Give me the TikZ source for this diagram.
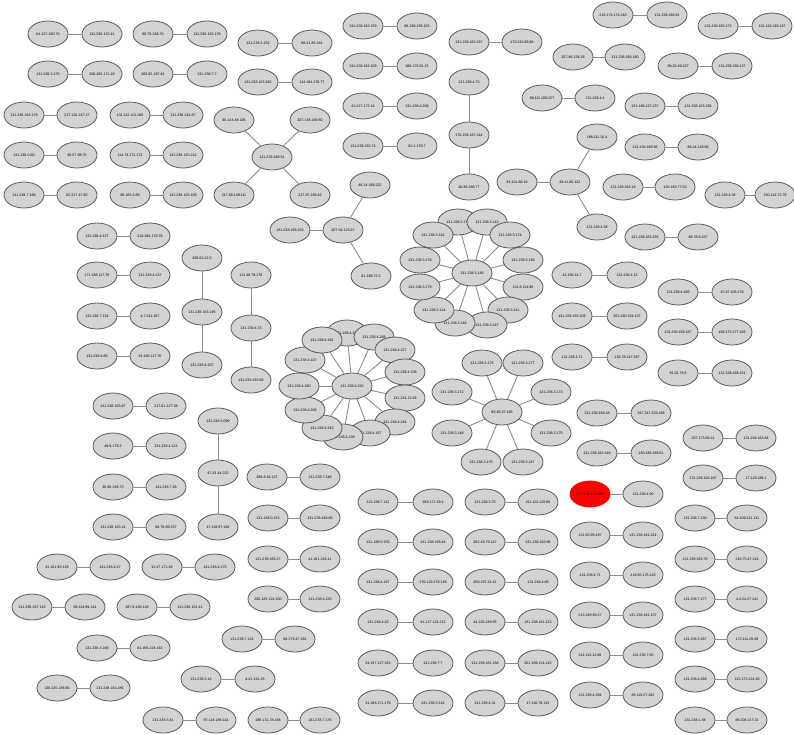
\documentclass[tikz,border=0pt]{standalone}
\usepackage{fontspec}
\newfontfamily\ipf{Liberation Sans}
\usetikzlibrary{shapes.geometric,backgrounds}
\definecolor{nodegray}{RGB}{211,211,211}
\definecolor{rimgray}{RGB}{90,90,90}
\definecolor{edgegray}{RGB}{140,140,140}
\tikzset{
  ip/.style={ellipse, draw=rimgray, fill=nodegray, line width=0.8pt,
    minimum width=40pt, minimum height=26pt, inner sep=0pt,
    font={\ipf\fontsize{3.6}{4}\selectfont}},
  hot/.style={ip, draw=red, fill=red},
  lnk/.style={draw=edgegray, line width=0.9pt}
}
\newcommand\ippair[6]{%
  \node[ip] (#1a) at (#3,#2) {#4};
  \node[ip] (#1b) at (#5,#2) {#6};
  \draw[lnk] (#1a) -- (#1b);}
\begin{document}
\begin{tikzpicture}[x=1pt,y=-1pt]
\useasboundingbox (0,0) rectangle (794,734);
% ---- pairs ----
\ippair{p1}{34}{48}{64.127.160.78}{102}{131.238.163.41}
\ippair{p2}{34}{153}{66.75.188.78}{207}{131.238.163.178}
\ippair{p3}{74}{48}{131.238.3.176}{102}{208.165.171.16}
\ippair{p4}{74}{153}{208.65.197.81}{207}{131.238.7.7}
\ippair{p5}{115}{24}{131.238.163.179}{77}{217.128.247.27}
\ippair{p6}{115}{130}{131.112.113.189}{183}{131.238.241.87}
\ippair{p7}{155}{24}{131.238.0.60}{77}{49.57.98.75}
\ippair{p8}{155}{130}{114.79.171.172}{183}{131.238.163.212}
\ippair{p9}{195}{24}{131.238.7.188}{77}{82.217.47.60}
\ippair{p10}{195}{130}{98.165.2.89}{183}{131.238.163.109}
\ippair{p11}{236}{97}{131.238.4.127}{150}{214.184.178.78}
\ippair{p12}{43}{258}{131.238.3.152}{312}{88.41.85.161}
\ippair{p13}{82}{258}{131.238.163.182}{312}{114.184.178.77}
\ippair{p14}{26}{363}{131.238.163.159}{417}{88.188.195.153}
\ippair{p15}{66}{363}{131.238.163.109}{417}{188.176.61.15}
\ippair{p16}{106}{363}{41.217.172.14}{417}{131.238.4.208}
\ippair{p17}{146}{363}{131.238.163.74}{417}{92.1.179.7}
\ippair{p18}{42}{469}{131.238.163.197}{522}{170.210.86.86}
\ippair{p19}{57}{573}{207.86.134.26}{625}{131.238.168.180}
\ippair{p20}{98}{542}{88.111.109.227}{595}{131.238.4.1}
\ippair{p21}{15}{613}{216.174.174.240}{667}{131.238.169.81}
\ippair{p22}{26}{718}{131.238.163.173}{772}{131.124.148.187}
\ippair{p23}{66}{678}{88.22.49.227}{732}{131.238.168.137}
\ippair{p24}{106}{645}{131.188.127.237}{698}{131.238.163.194}
\ippair{p25}{147}{645}{131.238.168.96}{698}{88.24.129.68}
\ippair{p26}{187}{623}{131.238.163.18}{675}{193.183.77.53}
\ippair{p27}{195}{725}{131.238.4.36}{775}{190.214.72.76}
\ippair{p28}{237}{645}{131.238.163.255}{698}{88.78.9.237}
\ippair{p29}{275}{97}{171.188.117.76}{150}{131.238.4.137}
\ippair{p30}{316}{97}{131.238.7.124}{150}{4.7.211.187}
\ippair{p31}{356}{97}{131.238.4.80}{150}{81.186.117.76}
\ippair{p32}{406}{113}{131.238.163.87}{166}{217.61.127.38}
\ippair{p33}{446}{113}{49.9.179.2}{166}{131.238.4.121}
\ippair{p34}{487}{113}{36.96.188.73}{166}{131.238.7.28}
\ippair{p35}{527}{113}{131.238.163.14}{166}{88.78.88.237}
\ippair{p36}{567}{57}{41.161.99.129}{110}{131.238.4.47}
\ippair{p37}{567}{162}{12.47.171.49}{215}{131.238.4.175}
\ippair{p38}{607}{32}{131.238.167.143}{85}{88.114.99.144}
\ippair{p39}{607}{137}{187.9.188.128}{190}{131.238.161.41}
\ippair{p40}{648}{97}{131.238.4.249}{150}{81.169.224.163}
\ippair{p41}{688}{57}{136.225.188.80}{110}{131.238.163.286}
\ippair{p42}{720}{163}{131.238.3.41}{216}{97.124.188.114}
\ippair{p43}{518}{268}{131.188.0.153}{320}{131.238.168.66}
\ippair{p44}{559}{268}{131.238.168.27}{320}{41.181.216.41}
\ippair{p45}{599}{268}{200.129.124.200}{320}{131.238.4.228}
\ippair{p46}{639}{242}{131.238.7.124}{295}{88.179.47.181}
\ippair{p47}{679}{201}{131.238.3.16}{255}{4.41.124.28}
\ippair{p48}{720}{268}{188.131.78.188}{320}{131.238.7.175}
\ippair{p49}{477}{267}{209.8.16.137}{320}{131.238.7.148}
\ippair{p50}{502}{378}{131.238.7.112}{433}{189.171.39.1}
\ippair{p51}{542}{378}{131.188.0.155}{433}{131.238.168.44}
\ippair{p52}{582}{378}{131.238.4.167}{433}{170.129.178.128}
\ippair{p53}{622}{378}{131.238.4.22}{433}{41.127.124.212}
\ippair{p54}{663}{378}{24.197.127.163}{433}{131.238.7.7}
\ippair{p55}{703}{378}{41.188.171.179}{433}{131.238.3.122}
\ippair{p56}{502}{485}{131.238.3.78}{538}{211.114.129.80}
\ippair{p57}{542}{485}{202.18.79.147}{538}{131.238.163.86}
\ippair{p58}{582}{485}{208.197.24.41}{538}{131.238.4.88}
\ippair{p59}{622}{485}{44.226.249.95}{538}{131.238.161.213}
\ippair{p60}{663}{485}{131.238.161.158}{538}{201.189.124.143}
\ippair{p61}{703}{485}{131.238.4.31}{538}{47.116.78.133}
\node[hot] (p62a) at (590,494) {131.238.163.183};
\node[ip] (p62b) at (643,494) {131.238.4.90};
\draw[lnk] (p62a) -- (p62b);
\ippair{p63}{535}{590}{131.83.99.197}{643}{131.238.161.224}
\ippair{p64}{575}{590}{131.238.4.71}{643}{218.65.178.128}
\ippair{p65}{615}{590}{213.189.99.27}{643}{131.238.161.137}
\ippair{p66}{655}{590}{214.113.12.88}{643}{131.238.7.95}
\ippair{p67}{695}{590}{131.238.4.294}{643}{88.119.27.182}
\ippair{p68}{518}{695}{131.238.7.130}{747}{64.209.211.131}
\ippair{p69}{559}{695}{131.238.163.78}{747}{218.75.47.144}
\ippair{p70}{599}{695}{131.238.7.177}{747}{4.4.24.27.141}
\ippair{p71}{639}{695}{131.238.3.167}{747}{172.111.29.48}
\ippair{p72}{679}{695}{131.238.4.289}{747}{212.173.124.28}
\ippair{p73}{720}{695}{131.238.1.38}{747}{88.208.217.21}
\ippair{p74}{275}{572}{41.196.11.7}{627}{131.238.4.12}
\ippair{p75}{316}{572}{131.238.163.109}{627}{202.180.184.137}
\ippair{p76}{357}{572}{131.238.4.71}{627}{136.78.147.197}
\ippair{p77}{292}{678}{131.238.4.185}{732}{47.47.108.178}
\ippair{p78}{332}{678}{131.238.168.187}{732}{168.173.177.163}
\ippair{p79}{373}{678}{91.91.79.6}{732}{131.238.168.151}
\ippair{p80}{413}{597}{131.238.168.28}{651}{197.247.229.188}
\ippair{p81}{453}{597}{131.238.163.149}{651}{160.188.169.51}
\ippair{p82}{438}{703}{207.173.88.11}{756}{131.238.163.84}
\ippair{p83}{478}{703}{131.238.163.187}{756}{17.129.186.1}
% ---- star A ----
\node[ip] (a0) at (272,157) {131.238.168.51};
\node[ip] (a1) at (234,120) {80.144.48.195};
\node[ip] (a2) at (310,120) {207.138.169.80};
\node[ip] (a3) at (234,195) {217.80.149.111};
\node[ip] (a4) at (310,195) {217.97.199.42};
\foreach \k in {1,...,4} \draw[lnk] (a0) -- (a\k);
% ---- tree B ----
\node[ip] (b1) at (290,230) {131.238.169.103};
\node[ip] (b2) at (343,230) {207.54.123.67};
\node[ip] (b3) at (370,185) {49.14.188.222};
\node[ip] (b4) at (371,276) {61.196.73.2};
\draw[lnk] (b1) -- (b2); \draw[lnk] (b2) -- (b3); \draw[lnk] (b2) -- (b4);
% ---- chain C ----
\node[ip] (c1) at (469,82) {131.238.4.73};
\node[ip] (c2) at (469,135) {170.238.187.144};
\node[ip] (c3) at (469,187) {40.88.188.77};
\draw[lnk] (c1) -- (c2); \draw[lnk] (c2) -- (c3);
% ---- tree D ----
\node[ip] (d1) at (517,182) {94.101.88.16};
\node[ip] (d2) at (570,182) {88.11.66.122};
\node[ip] (d3) at (597,137) {188.111.10.4};
\node[ip] (d4) at (597,227) {131.238.4.38};
\draw[lnk] (d1) -- (d2); \draw[lnk] (d2) -- (d3); \draw[lnk] (d2) -- (d4);
% ---- chain E ----
\node[ip] (e1) at (202,258) {208.83.22.2};
\node[ip] (e2) at (202,312) {131.238.163.196};
\node[ip] (e3) at (202,365) {131.238.4.207};
\draw[lnk] (e1) -- (e2); \draw[lnk] (e2) -- (e3);
% ---- chain F ----
\node[ip] (f1) at (251,275) {113.48.79.178};
\node[ip] (f2) at (251,328) {131.238.4.73};
\node[ip] (f3) at (251,380) {131.238.163.88};
\draw[lnk] (f1) -- (f2); \draw[lnk] (f2) -- (f3);
% ---- chain G ----
\node[ip] (g1) at (218,421) {131.238.3.099};
\node[ip] (g2) at (218,473) {47.43.44.222};
\node[ip] (g3) at (218,527) {47.118.97.108};
\draw[lnk] (g1) -- (g2); \draw[lnk] (g2) -- (g3);
% ---- ring 1 ----
\node[ip] (r0) at (352,386) {131.238.4.232};
\node[ip] (r1) at (347,333) {131.238.4.224};
\node[ip] (r2) at (374,337) {131.238.4.288};
\node[ip] (r3) at (395,350) {131.238.4.227};
\node[ip] (r4) at (405,372) {131.238.4.238};
\node[ip] (r5) at (405,398) {131.224.12.98};
\node[ip] (r6) at (395,422) {131.238.4.244};
\node[ip] (r7) at (370,433) {131.238.4.167};
\node[ip] (r8) at (343,437) {131.238.4.139};
\node[ip] (r9) at (322,428) {131.238.4.243};
\node[ip] (r10) at (305,410) {131.238.4.206};
\node[ip] (r11) at (299,386) {131.238.4.160};
\node[ip] (r12) at (305,360) {131.238.4.107};
\node[ip] (r13) at (322,340) {131.238.4.191};
\begin{scope}[on background layer]
\foreach \k in {1,...,13} \draw[lnk] (r0) -- (r\k);
\end{scope}
% ---- ring 2 ----
\node[ip] (s0) at (472,273) {131.238.3.148};
\node[ip] (s1) at (458,222) {131.238.3.177};
\node[ip] (s2) at (487,222) {131.238.3.143};
\node[ip] (s3) at (510,235) {131.238.3.174};
\node[ip] (s4) at (523,260) {131.238.3.149};
\node[ip] (s5) at (523,287) {131.8.114.98};
\node[ip] (s6) at (508,310) {131.238.3.141};
\node[ip] (s7) at (487,325) {131.238.3.147};
\node[ip] (s8) at (455,323) {131.238.3.146};
\node[ip] (s9) at (434,310) {131.238.3.124};
\node[ip] (s10) at (420,287) {131.238.3.179};
\node[ip] (s11) at (420,260) {131.238.3.178};
\node[ip] (s12) at (433,235) {131.238.3.142};
\begin{scope}[on background layer]
\foreach \k in {1,...,12} \draw[lnk] (s0) -- (s\k);
\end{scope}
% ---- star 3 ----
\node[ip] (t0) at (502,412) {86.46.37.168};
\node[ip] (t1) at (482,363) {131.238.3.176};
\node[ip] (t2) at (523,363) {131.238.3.177};
\node[ip] (t3) at (551,392) {131.238.3.173};
\node[ip] (t4) at (551,433) {131.238.3.175};
\node[ip] (t5) at (523,462) {131.238.3.147};
\node[ip] (t6) at (481,462) {131.238.3.170};
\node[ip] (t7) at (452,433) {131.238.3.148};
\node[ip] (t8) at (452,392) {131.238.3.172};
\foreach \k in {1,...,8} \draw[lnk] (t0) -- (t\k);
\end{tikzpicture}
\end{document}
